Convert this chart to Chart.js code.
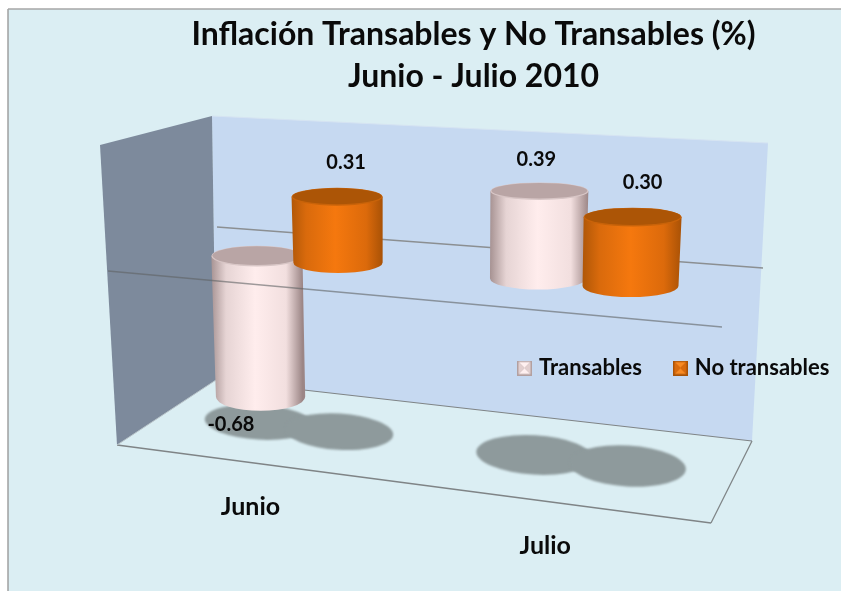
<!DOCTYPE html>
<html>
<head>
<meta charset="utf-8">
<style>
  html, body { margin: 0; padding: 0; background: #fff; }
  canvas { display: block; }
</style>
<script src="https://cdn.jsdelivr.net/npm/chart.js@4/dist/chart.umd.min.js"></script>
</head>
<body>
<canvas id="c" width="841" height="591"></canvas>
<script>
const categories = ['Junio', 'Julio'];
const seriesNames = ['Transables', 'No transables'];
const transables = [-0.68, 0.39];
const noTransables = [0.31, 0.30];
const titleLines = ['Inflación Transables y No Transables (%)', 'Junio - Julio 2010'];

const FONT = 'Lato, "Open Sans", sans-serif';
const pink = { stops: ['#a89494', '#e6d4d4', '#ffeded', '#f2dfdf', '#9c8686'], top: '#b9a5a5', rim: '#d8c6c6', swatch: '#fff0f0', swatchSide: '#e2cfcf', swatchEdge: '#b3a0a0' };
const orange = { stops: ['#b25808', '#d96a0c', '#f5780e', '#dc6a0b', '#a95206'], top: '#ac5506', rim: '#c8630a', swatch: '#f98a22', swatchSide: '#d96a0c', swatchEdge: '#a85206' };
const labelOffsets = [[[-26, 28], [-3, -32]], [[9, -34], [10, -35]]];

// perspective of the fake 3d plot, everything below takes pixels from the scales
function zeroLine(x) { return 256 + (x - 256) * 0.0795; }
function unitHeight(x) { return 207 + (x - 256) * 0.06; }
function ellipseRy(y) { return 9.5 + (y - 220) * 0.025; }
function spread(g) { return 1 + (g - 441.5) * 0.00052; }

function poly(ctx, pts, fill, stroke) {
  ctx.beginPath();
  pts.forEach((p, i) => i ? ctx.lineTo(p[0], p[1]) : ctx.moveTo(p[0], p[1]));
  ctx.closePath();
  if (fill) { ctx.fillStyle = fill; ctx.fill(); }
  if (stroke) { ctx.strokeStyle = stroke; ctx.lineWidth = 1.2; ctx.stroke(); }
}

function line(ctx, a, b, color, width) {
  ctx.beginPath();
  ctx.moveTo(a[0], a[1]);
  ctx.lineTo(b[0], b[1]);
  ctx.strokeStyle = color;
  ctx.lineWidth = width;
  ctx.stroke();
}

function swatch(look) {
  const s = document.createElement('canvas');
  s.width = 15;
  s.height = 15;
  const c = s.getContext('2d');
  c.fillStyle = look.swatchEdge;
  c.fillRect(0, 0, 15, 15);
  poly(c, [[1.5, 1.5], [13.5, 1.5], [7.5, 7.5]], look.swatch);
  poly(c, [[1.5, 13.5], [13.5, 13.5], [7.5, 7.5]], look.swatch);
  poly(c, [[1.5, 1.5], [1.5, 13.5], [7.5, 7.5]], look.swatchSide);
  poly(c, [[13.5, 1.5], [13.5, 13.5], [7.5, 7.5]], look.swatchSide);
  return s;
}

function barGeometry(chart, d, i) {
  const bar = chart.getDatasetMeta(d).data[i];
  const xs = chart.scales.x;
  const ys = chart.scales.y;
  const g = xs.getPixelForValue(i);
  const value = chart.data.datasets[d].data[i];
  const x = g + (bar.x - g) * spread(g);
  const zero = zeroLine(x);
  const ppu = ys.getPixelForValue(0) - ys.getPixelForValue(1);
  const end = zero + (bar.y - bar.base) / ppu * unitHeight(x);
  const r = bar.width / 2 * (1 + (g - 441.5) * 0.00025);
  return { g, x, r, zero, end, value };
}

function drawShadow(ctx, b) {
  const sx = b.x + 2 - (b.g - 297) * 0.024;
  const sy = 422 + (sx - 258) * 0.119;
  ctx.beginPath();
  ctx.ellipse(sx, sy, b.r * 1.19, 17.5 + (sx - 258) * 0.008, 0.06, 0, Math.PI * 2);
  ctx.fill();
}

function drawCylinder(ctx, b, look) {
  const topY = Math.min(b.zero, b.end);
  const botY = Math.max(b.zero, b.end);
  const lean = (430 - b.x) * 0.00015 * (botY - topY);
  const rt = b.r;
  const rb = b.r * 0.98;
  const xt = b.x;
  const xb = xt + lean;
  const ryT = ellipseRy(topY);
  const ryB = ellipseRy(botY);
  const grad = ctx.createLinearGradient(xt - rt, 0, xt + rt, 0);
  look.stops.forEach((s, i) => grad.addColorStop([0, 0.16, 0.48, 0.82, 1][i], s));
  ctx.beginPath();
  ctx.moveTo(xt - rt, topY);
  ctx.lineTo(xb - rb, botY);
  ctx.ellipse(xb, botY, rb, ryB, 0, Math.PI, 0, true);
  ctx.lineTo(xt + rt, topY);
  ctx.closePath();
  ctx.fillStyle = grad;
  ctx.fill();
  ctx.beginPath();
  ctx.ellipse(xt, topY, rt, ryT, 0, 0, Math.PI * 2);
  ctx.fillStyle = look.rim;
  ctx.fill();
  ctx.beginPath();
  ctx.ellipse(xt, topY - 0.5, rt - 1, ryT - 1, 0, 0, Math.PI * 2);
  ctx.fillStyle = look.top;
  ctx.fill();
}

const plot3d = {
  id: 'plot3d',
  afterLayout(chart) {
    // title and legend sit off centre in the original
    const t = chart.titleBlock;
    t.left = 106;
    t.right = 841;
    t.top = 14;
    const l = chart.legend;
    l.left = 486;
    l.right = 1000;
    l.top = 322;
    l.bottom = 414;
  },
  beforeDraw(chart) {
    const ctx = chart.ctx;
    ctx.save();
    ctx.fillStyle = '#ffffff';
    ctx.fillRect(0, 0, 841, 591);
    ctx.fillStyle = '#dbeef3';
    ctx.fillRect(8, 9, 833, 582);
    line(ctx, [8, 591], [8, 9], '#9a9a9a', 1.4);
    line(ctx, [8, 9], [841, 9], '#a6a6a6', 1.4);
    poly(ctx, [[212, 116], [768, 143], [752, 441], [216, 380]], '#c6d9f1');
    poly(ctx, [[100, 145], [212, 116], [216, 380], [117, 445]], '#7d8a9c');
    line(ctx, [212, 116], [768, 143], '#d6e4f2', 1);
    line(ctx, [217, 227], [763, 268], '#8b8f92', 1.3);
    line(ctx, [216, 380], [752, 441], '#7f8486', 1.2);
    line(ctx, [117, 445], [711, 523], '#7f8486', 1.3);
    line(ctx, [711, 523], [752, 441], '#7f8486', 1.3);
    line(ctx, [117, 445], [216, 380], '#b9c4c9', 1);
    ctx.restore();
  },
  beforeDatasetsDraw(chart) {
    const ctx = chart.ctx;
    const looks = [pink, orange];
    const bars = [];
    chart.data.datasets.forEach((ds, d) => {
      ds.data.forEach((v, i) => bars.push({ d, i, b: barGeometry(chart, d, i) }));
    });
    ctx.save();
    ctx.filter = 'blur(1.2px)';
    ctx.fillStyle = '#8e9a9c';
    bars.forEach(o => drawShadow(ctx, o.b));
    ctx.filter = 'none';
    bars.forEach(o => drawCylinder(ctx, o.b, looks[o.d]));
    // this grid line runs in front of the tall cylinder
    line(ctx, [108, 271], [722, 327], 'rgba(95,98,100,0.6)', 1.3);
    ctx.font = 'bold 20px ' + FONT;
    ctx.fillStyle = '#0a0a0a';
    ctx.textAlign = 'center';
    ctx.textBaseline = 'middle';
    bars.forEach(o => {
      const off = labelOffsets[o.d][o.i];
      const y = (o.b.value < 0 ? Math.max(o.b.zero, o.b.end) : Math.min(o.b.zero, o.b.end)) + off[1];
      ctx.fillText(o.b.value.toFixed(2), o.b.x + off[0], y);
    });
    // category labels follow the front edge of the floor
    ctx.font = 'bold 25px ' + FONT;
    chart.scales.x.getLabels().forEach((label, i) => {
      const g = chart.scales.x.getPixelForValue(i);
      ctx.fillText(label, g - 46.5 + (g - 297) * 0.02, 507 + (g - 297) * 0.135);
    });
    ctx.restore();
    return false;
  }
};

new Chart(document.getElementById('c'), {
  type: 'bar',
  data: {
    labels: categories,
    datasets: [
      { label: seriesNames[0], data: transables, backgroundColor: pink.swatch },
      { label: seriesNames[1], data: noTransables, backgroundColor: orange.swatch }
    ]
  },
  plugins: [plot3d],
  options: {
    responsive: false,
    animation: false,
    layout: { padding: { left: 152.5, right: 110.5, top: 10, bottom: 30 } },
    datasets: { bar: { categoryPercentage: 0.6, barPercentage: 1.09 } },
    scales: {
      x: { display: false },
      y: { display: false, min: -1, max: 1 }
    },
    plugins: {
      tooltip: { enabled: false },
      title: {
        display: true,
        text: titleLines,
        color: '#0a0a0a',
        font: { family: FONT, size: 32, weight: 'bold', lineHeight: 1.31 },
        padding: 0
      },
      legend: {
        position: 'top',
        align: 'start',
        labels: {
          color: '#0a0a0a',
          font: { family: FONT, size: 22, weight: 'bold' },
          usePointStyle: true,
          boxWidth: 7,
          padding: 35,
          generateLabels(chart) {
            const items = Chart.defaults.plugins.legend.labels.generateLabels(chart);
            items.forEach((it, i) => { it.pointStyle = swatch([pink, orange][i]); });
            return items;
          }
        }
      }
    }
  }
});
</script>
</body>
</html>
